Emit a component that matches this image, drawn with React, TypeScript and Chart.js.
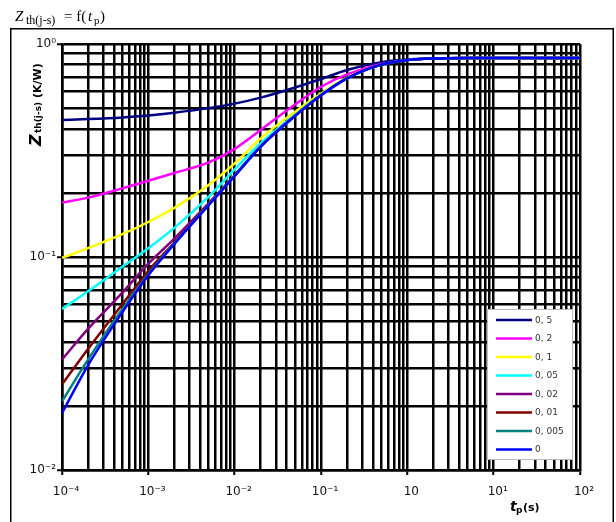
import React, { useEffect, useRef } from 'react';
import { Chart, registerables } from 'chart.js';

Chart.register(...registerables);

// pulse duration tp (s)
const T = [1e-4, 2e-4, 5e-4, 1e-3, 2e-3, 5e-3, 1e-2, 2e-2, 5e-2, 0.1, 0.2, 0.5, 1, 2, 5, 10, 100];

// Zth(j-s) (K/W) per duty cycle
const Z_05 = [0.44, 0.444, 0.452, 0.462, 0.476, 0.5, 0.525, 0.56, 0.625, 0.685, 0.755, 0.82, 0.845, 0.857, 0.86, 0.86, 0.86];
const Z_02 = [0.18, 0.19, 0.21, 0.228, 0.248, 0.278, 0.322, 0.395, 0.52, 0.63, 0.72, 0.805, 0.84, 0.855, 0.86, 0.86, 0.86];
const Z_01 = [0.099, 0.11, 0.128, 0.146, 0.17, 0.218, 0.275, 0.36, 0.48, 0.585, 0.695, 0.8, 0.84, 0.855, 0.86, 0.86, 0.86];
const Z_005 = [0.057, 0.069, 0.09, 0.11, 0.137, 0.192, 0.258, 0.342, 0.465, 0.578, 0.69, 0.8, 0.84, 0.855, 0.86, 0.86, 0.86];
const Z_002 = [0.033, 0.046, 0.068, 0.093, 0.122, 0.179, 0.242, 0.331, 0.46, 0.575, 0.69, 0.8, 0.84, 0.855, 0.86, 0.86, 0.86];
const Z_001 = [0.0252, 0.037, 0.06, 0.086, 0.117, 0.177, 0.241, 0.33, 0.46, 0.575, 0.69, 0.8, 0.84, 0.855, 0.86, 0.86, 0.86];
const Z_0005 = [0.021, 0.033, 0.057, 0.083, 0.116, 0.176, 0.241, 0.33, 0.46, 0.575, 0.69, 0.8, 0.84, 0.855, 0.86, 0.86, 0.86];
const Z_0 = [0.0185, 0.031, 0.055, 0.082, 0.115, 0.175, 0.24, 0.33, 0.46, 0.575, 0.69, 0.8, 0.84, 0.855, 0.86, 0.86, 0.86];

const SERIES = [Z_05, Z_02, Z_01, Z_005, Z_002, Z_001, Z_0005, Z_0];
const SERIES_LABELS = ['0, 5', '0, 2', '0, 1', '0, 05', '0, 02', '0, 01', '0, 005', '0'];
const SERIES_COLORS = ['#000080', '#FF00FF', '#FFFF00', '#00FFFF', '#800080', '#800000', '#008080', '#0000FF'];

const X_MAJOR = [1e-4, 1e-3, 1e-2, 1e-1, 1, 10, 100];
const X_LABELS = ['10⁻⁴', '10⁻³', '10⁻²', '10⁻¹', '10', '10¹', '10²'];
const Y_MAJOR = [1e-2, 1e-1, 1];
const Y_LABELS = ['10⁻²', '10⁻¹', '10⁰'];

const MULTS = [1, 2, 3, 4, 5, 6, 7, 8, 9];

function allTicks(majors: number[]) {
  const out: number[] = [];
  for (let i = 0; i < majors.length - 1; i++) {
    for (const m of MULTS) out.push(majors[i] * m);
  }
  out.push(majors[majors.length - 1]);
  return out;
}

function majorIndex(v: number, majors: number[]) {
  return majors.findIndex((m) => Math.abs(Math.log10(v) - Math.log10(m)) < 1e-6);
}

function drawRuns(ctx: CanvasRenderingContext2D, runs: { text: string; font: string; x: number; y: number }[]) {
  for (const r of runs) {
    ctx.font = r.font;
    ctx.fillText(r.text, r.x, r.y);
  }
}

const overlay = {
  id: 'overlay',
  afterDraw(chart: any) {
    const ctx: CanvasRenderingContext2D = chart.ctx;
    ctx.save();
    // outer frame
    ctx.strokeStyle = '#000';
    ctx.lineWidth = 1.5;
    ctx.beginPath();
    ctx.moveTo(10.75, 540);
    ctx.lineTo(10.75, 28.75);
    ctx.lineTo(613.25, 28.75);
    ctx.lineTo(613.25, 540);
    ctx.stroke();

    // title
    ctx.fillStyle = '#000';
    ctx.textBaseline = 'alphabetic';
    ctx.textAlign = 'left';
    const serif = '"Liberation Serif", "DejaVu Serif", serif';
    drawRuns(ctx, [
      { text: 'Z', font: `italic 15px ${serif}`, x: 15, y: 21 },
      { text: 'th(j-s)', font: `12px ${serif}`, x: 26, y: 24 },
      { text: '= f(', font: `15px ${serif}`, x: 64, y: 21 },
      { text: 't', font: `italic 15px ${serif}`, x: 88, y: 21 },
      { text: 'p', font: `11px ${serif}`, x: 94, y: 24 },
      { text: ')', font: `15px ${serif}`, x: 100, y: 21 },
    ]);

    const sans = '"DejaVu Sans", Verdana, sans-serif';
    // y axis title (rotated)
    ctx.save();
    ctx.translate(41, 146);
    ctx.rotate(-Math.PI / 2);
    drawRuns(ctx, [
      { text: 'Z', font: `italic bold 16px ${sans}`, x: 0, y: 0 },
      { text: 'th(j-s)', font: `bold 9px ${sans}`, x: 13, y: 0 },
      { text: '(K/W)', font: `bold 11px ${sans}`, x: 48, y: 0 },
    ]);
    ctx.restore();

    // x axis title
    drawRuns(ctx, [
      { text: 't', font: `italic bold 14px ${sans}`, x: 510, y: 511 },
      { text: 'p', font: `bold 9px ${sans}`, x: 516, y: 513 },
      { text: '(s)', font: `bold 11px ${sans}`, x: 523, y: 511 },
    ]);

    // legend
    const lx = 487, ly = 309, lw = 85, lh = 150;
    ctx.fillStyle = '#fff';
    ctx.fillRect(lx, ly, lw, lh);
    ctx.strokeStyle = '#bbb';
    ctx.lineWidth = 1;
    ctx.strokeRect(lx + 0.5, ly + 0.5, lw, lh);
    ctx.font = `9px ${sans}`;
    ctx.textBaseline = 'middle';
    SERIES_LABELS.forEach((lab, i) => {
      const y = 320 + i * 18.5;
      ctx.strokeStyle = SERIES_COLORS[i];
      ctx.lineWidth = 2.5;
      ctx.beginPath();
      ctx.moveTo(496, y);
      ctx.lineTo(532, y);
      ctx.stroke();
      ctx.fillStyle = '#333';
      ctx.fillText(lab, 535, y + 0.5);
    });
    ctx.restore();
  },
};

export default function App() {
  const ref = useRef<HTMLCanvasElement | null>(null);
  useEffect(() => {
    if (!ref.current) return;
    const datasets = SERIES.map((s, i) => ({
      label: SERIES_LABELS[i],
      data: T.map((t, k) => ({ x: t, y: s[k] })),
      borderColor: SERIES_COLORS[i],
      backgroundColor: SERIES_COLORS[i],
      borderWidth: 2.5,
      pointRadius: 0,
      fill: false,
      cubicInterpolationMode: 'monotone' as const,
      order: SERIES.length - 1 - i,
    }));
    const tickFont = { family: '"DejaVu Sans", Verdana, sans-serif', size: 12 };
    const chart = new Chart(ref.current, {
      type: 'line',
      data: { datasets },
      options: {
        responsive: false,
        animation: false,
        devicePixelRatio: 1,
        layout: { padding: { left: 0, top: 44, right: 36, bottom: 0 } },
        plugins: { legend: { display: false }, tooltip: { enabled: false }, title: { display: false } },
        scales: {
          x: {
            type: 'logarithmic',
            min: 1e-4,
            max: 100,
            afterBuildTicks: (s: any) => {
              s.ticks = allTicks(X_MAJOR).map((v) => ({ value: v, major: majorIndex(v, X_MAJOR) >= 0 }));
            },
            afterFit: (s: any) => {
              s.height = 52;
            },
            ticks: {
              autoSkip: false,
              maxRotation: 0,
              minRotation: 0,
              padding: 10,
              labelOffset: 4,
              color: '#111',
              font: tickFont,
              callback: (v: any) => {
                const i = majorIndex(Number(v), X_MAJOR);
                return i >= 0 ? X_LABELS[i] : '';
              },
            },
            grid: {
              color: '#000',
              lineWidth: 2.5,
              tickLength: 5,
              tickWidth: 2,
              tickColor: (c: any) => (c.tick && majorIndex(c.tick.value, X_MAJOR) >= 0 ? '#000' : 'rgba(0,0,0,0)'),
            },
            border: { display: true, color: '#000', width: 2.5 },
          },
          y: {
            type: 'logarithmic',
            min: 0.01,
            max: 1,
            afterBuildTicks: (s: any) => {
              s.ticks = allTicks(Y_MAJOR).map((v) => ({ value: v, major: majorIndex(v, Y_MAJOR) >= 0 }));
            },
            afterFit: (s: any) => {
              s.width = 62;
            },
            ticks: {
              autoSkip: false,
              padding: 1,
              color: '#111',
              font: tickFont,
              callback: (v: any) => {
                const i = majorIndex(Number(v), Y_MAJOR);
                return i >= 0 ? Y_LABELS[i] : '';
              },
            },
            grid: {
              color: '#000',
              lineWidth: 2.5,
              tickLength: 5,
              tickWidth: 2,
              tickColor: (c: any) => (c.tick && majorIndex(c.tick.value, Y_MAJOR) >= 0 ? '#000' : 'rgba(0,0,0,0)'),
            },
            border: { display: true, color: '#000', width: 2.5 },
          },
        },
      } as any,
      plugins: [overlay],
    });
    return () => chart.destroy();
  }, []);
  return (
    <div style={{ position: 'absolute', left: 0, top: 0, width: 616, height: 522, background: '#fff' }}>
      <canvas ref={ref} width={616} height={522} style={{ display: 'block' }} />
    </div>
  );
}
